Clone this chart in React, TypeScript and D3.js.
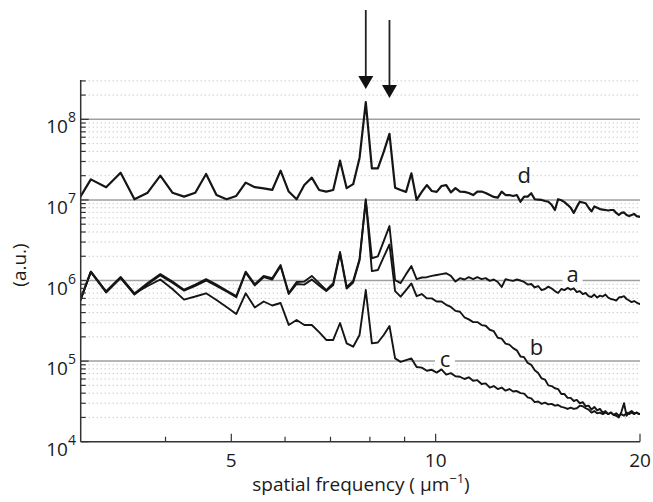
import React from 'react';
import * as d3 from 'd3';

// spatial frequency samples (um^-1)
const freq = [
  2.94, 3.105, 3.27, 3.435, 3.6, 3.765, 3.93, 4.095, 4.26, 4.425,
  4.59, 4.755, 4.92, 5.085, 5.25, 5.415, 5.58, 5.745, 5.91, 6.075,
  6.24, 6.405, 6.57, 6.735, 6.9, 7.065, 7.23, 7.395, 7.56, 7.725,
  7.89, 8.055, 8.22, 8.385, 8.55, 8.715, 8.88, 9.045, 9.21, 9.375,
  9.54, 9.705, 9.87, 10.035, 10.2, 10.365, 10.53, 10.695, 10.86, 11.025,
  11.19, 11.355, 11.52, 11.685, 11.85, 12.015, 12.18, 12.345, 12.51, 12.675,
  12.84, 13.005, 13.17, 13.335, 13.5, 13.665, 13.83, 13.995, 14.16, 14.325,
  14.49, 14.655, 14.82, 14.985, 15.15, 15.315, 15.48, 15.645, 15.81, 15.975,
  16.14, 16.305, 16.47, 16.635, 16.8, 16.965, 17.13, 17.295, 17.46, 17.625,
  17.79, 17.955, 18.12, 18.285, 18.45, 18.615, 18.78, 18.945, 19.11, 19.275,
  19.44, 19.605, 19.77, 19.935, 20.1,
];

const seriesA = [
  3.7e5, 1.29e6, 7.3e5, 1.1e6, 6.9e5, 9.3e5, 1.2e6, 9.7e5, 7.7e5, 8.9e5,
  1.04e6, 8.9e5, 7.5e5, 6.4e5, 1.29e6, 9.0e5, 1.14e6, 1.07e6, 1.56e6, 7.0e5,
  9.6e5, 9.7e5, 1.14e6, 9.3e5, 7.6e5, 9.3e5, 2.26e6, 8.3e5, 9.9e5, 1.85e6,
  1.02e7, 1.89e6, 1.99e6, 3.09e6, 4.74e6, 1.01e6, 9.3e5, 1.2e6, 1.51e6, 1.04e6,
  1.09e6, 1.1e6, 1.14e6, 1.17e6, 1.2e6, 1.23e6, 1.14e6, 9.7e5, 1.07e6, 1.03e6,
  1.1e6, 1.04e6, 1.1e6, 1.04e6, 1.07e6, 9.9e5, 1.03e6, 9.6e5, 8.3e5, 1.04e6,
  1.01e6, 9.9e5, 1.03e6, 1.0e6, 9.6e5, 8.9e5, 9.05e5, 8.2e5, 8.55e5, 7.6e5,
  7.85e5, 8.4e5, 7.95e5, 7.4e5, 7.0e5, 7.85e5, 7.6e5, 8.1e5, 7.7e5, 8.0e5,
  7.2e5, 7.4e5, 6.8e5, 7.0e5, 6.4e5, 6.24e5, 6.7e5, 6.15e5, 6.5e5, 6.33e5,
  6.7e5, 6.15e5, 5.9e5, 5.8e5, 5.65e5, 6.15e5, 6.24e5, 6.4e5, 5.9e5, 5.65e5,
  5.4e5, 5.57e5, 5.33e5, 5.15e5, 5.04e5,
];

const seriesB = [
  3.7e5, 1.27e6, 7.1e5, 1.07e6, 6.7e5, 9.0e5, 1.16e6, 9.4e5, 7.5e5, 8.6e5,
  1.0e6, 8.6e5, 7.3e5, 6.2e5, 1.25e6, 8.7e5, 1.1e6, 1.03e6, 1.5e6, 6.8e5,
  9.05e5, 8.9e5, 1.03e6, 8.67e5, 7.4e5, 8.8e5, 2.16e6, 7.96e5, 9.44e5, 1.77e6,
  9.8e6, 1.31e6, 1.35e6, 1.96e6, 2.8e6, 7.4e5, 6.3e5, 7.6e5, 9.2e5, 6.4e5,
  6.8e5, 6.0e5, 6.0e5, 5.5e5, 5.5e5, 5.0e5, 4.7e5, 4.2e5, 4.1e5, 3.5e5,
  3.3e5, 3.05e5, 3.05e5, 2.8e5, 2.75e5, 2.45e5, 2.35e5, 1.95e5, 1.9e5, 1.65e5,
  1.6e5, 1.45e5, 1.36e5, 1.14e5, 1.12e5, 9.5e4, 9.0e4, 7.7e4, 7.1e4, 6.1e4,
  5.9e4, 5.0e4, 4.9e4, 4.6e4, 4.5e4, 3.9e4, 3.9e4, 3.5e4, 3.5e4, 3.2e4,
  3.3e4, 3.0e4, 3.1e4, 2.75e4, 2.8e4, 2.5e4, 2.7e4, 2.45e4, 2.55e4, 2.3e4,
  2.4e4, 2.2e4, 2.3e4, 2.15e4, 2.25e4, 2.1e4, 2.2e4, 2.1e4, 2.3e4, 2.2e4,
  2.3e4, 2.2e4, 2.3e4, 2.2e4, 2.25e4,
];

const seriesC = [
  3.7e5, 1.29e6, 7.3e5, 1.1e6, 6.9e5, 8.55e5, 1.03e6, 7.85e5, 5.8e5, 6.33e5,
  6.94e5, 5.73e5, 4.69e5, 3.84e5, 6.94e5, 4.62e5, 5.49e5, 4.9e5, 5.26e5, 2.81e5,
  3.24e5, 2.81e5, 2.81e5, 2.29e5, 1.83e5, 1.83e5, 2.97e5, 1.66e5, 1.51e5, 2.11e5,
  7.62e5, 1.66e5, 1.7e5, 2.11e5, 2.73e5, 1.08e5, 9.8e4, 1.03e5, 1.08e5, 8.45e4,
  8.3e4, 7.6e4, 7.8e4, 7.2e4, 7.9e4, 6.8e4, 7.1e4, 6.5e4, 6.4e4, 6.0e4,
  6.3e4, 5.7e4, 5.8e4, 5.2e4, 5.3e4, 4.7e4, 4.9e4, 4.5e4, 4.7e4, 4.3e4,
  4.5e4, 4.2e4, 4.25e4, 4.0e4, 3.95e4, 3.55e4, 3.45e4, 3.1e4, 3.15e4, 2.95e4,
  3.05e4, 2.9e4, 2.95e4, 2.8e4, 2.85e4, 2.7e4, 2.65e4, 2.55e4, 2.65e4, 2.55e4,
  2.6e4, 2.8e4, 2.75e4, 2.6e4, 2.5e4, 2.3e4, 2.4e4, 2.25e4, 2.3e4, 2.2e4,
  2.3e4, 2.2e4, 2.3e4, 2.15e4, 2.1e4, 2.0e4, 2.35e4, 3.0e4, 2.1e4, 2.3e4,
  2.4e4, 2.25e4, 2.3e4, 2.2e4, 2.25e4,
];

const seriesD = [
  8.4e6, 1.8e7, 1.44e7, 2.18e7, 1.02e7, 1.23e7, 2.0e7, 1.23e7, 1.1e7, 1.23e7,
  2.1e7, 1.15e7, 1.02e7, 1.12e7, 1.64e7, 1.44e7, 1.39e7, 1.33e7, 2.31e7, 1.27e7,
  1.02e7, 1.53e7, 1.89e7, 1.33e7, 1.27e7, 1.33e7, 3.07e7, 1.4e7, 1.57e7, 3.32e7,
  1.64e8, 2.47e7, 2.47e7, 3.94e7, 6.6e7, 1.42e7, 1.33e7, 1.26e7, 2.14e7, 1.0e7,
  1.26e7, 1.53e7, 1.29e7, 1.26e7, 1.49e7, 1.53e7, 1.24e7, 1.4e7, 1.27e7, 1.26e7,
  1.22e7, 1.15e7, 1.27e7, 1.27e7, 1.22e7, 1.15e7, 1.09e7, 1.07e7, 1.27e7, 1.15e7,
  1.15e7, 1.12e7, 1.15e7, 9.5e6, 1.1e7, 1.1e7, 1.21e7, 1.02e7, 1.01e7, 1.0e7,
  9.7e6, 9.5e6, 8.7e6, 7.5e6, 1.02e7, 9.9e6, 9.4e6, 8.7e6, 8.0e6, 6.9e6,
  8.2e6, 9.5e6, 9.3e6, 9.1e6, 8.0e6, 7.2e6, 8.3e6, 8.0e6, 7.7e6, 7.6e6,
  7.5e6, 7.4e6, 7.5e6, 7.5e6, 6.9e6, 6.5e6, 6.9e6, 7.0e6, 6.5e6, 6.3e6,
  6.5e6, 6.7e6, 6.3e6, 6.2e6, 6.1e6,
];

const xTicks = [5, 10, 20];
const xMinorTicks = [4, 6, 7, 8, 9];
const yDecades = [4, 5, 6, 7, 8];
const gridDecades = [5, 6, 7, 8];
const peakFreqs = [7.89, 8.55];
const curveLabels = [
  { text: 'd', f: 13.51, v: 1.61e7, bg: false },
  { text: 'a', f: 15.91, v: 9.66e5, bg: true },
  { text: 'b', f: 14.08, v: 1.19e5, bg: false },
  { text: 'c', f: 10.32, v: 8.45e4, bg: true },
];

const W = 653;
const H = 502;
const plot = { left: 80.7, right: 640, top: 80.9, bottom: 441.7 };
const font = '"Open Sans", "DejaVu Sans", sans-serif';

export default function App() {
  const x = d3.scaleLog().domain([3, 20]).range([plot.left, plot.right]);
  const y = d3.scaleLog().domain([1e4, 3e8]).range([plot.bottom, plot.top]);

  const line = d3
    .line<[number, number]>()
    .x((d) => x(d[0]))
    .y((d) => y(d[1]));

  const series = [seriesC, seriesB, seriesA, seriesD];

  // minor y values: 2..9 x 10^n inside domain
  const yMinor: number[] = [];
  for (const e of yDecades) {
    for (let m = 2; m <= 9; m++) {
      const v = m * Math.pow(10, e);
      if (v <= 3e8) yMinor.push(v);
    }
  }

  return (
    <div style={{ position: 'absolute', left: 0, top: 0 }}>
      <svg width={W} height={H} style={{ display: 'block', background: '#fff' }}>
        <defs>
          <clipPath id="plotClip">
            <rect x={plot.left} y={plot.top - 30} width={plot.right - plot.left} height={plot.bottom - plot.top + 30} />
          </clipPath>
        </defs>

        {/* minor grid */}
        {yMinor.map((v) => (
          <line
            key={'mg' + v}
            x1={plot.left}
            x2={plot.right}
            y1={y(v)}
            y2={y(v)}
            stroke="#b4b4b4"
            strokeWidth={1}
            strokeDasharray="1 3"
          />
        ))}
        {/* major grid */}
        {gridDecades.map((e) => (
          <line
            key={'g' + e}
            x1={plot.left}
            x2={plot.right}
            y1={y(Math.pow(10, e))}
            y2={y(Math.pow(10, e))}
            stroke="#a0a0a0"
            strokeWidth={1.5}
          />
        ))}

        {/* curve labels with white background */}
        {curveLabels.map((l) => (
          <g key={l.text}>
            {l.bg && (
              <rect x={x(l.f) - 10} y={y(l.v) - 16} width={20} height={20} fill="#fff" />
            )}
            <text
              x={x(l.f)}
              y={y(l.v)}
              textAnchor="middle"
              fontFamily={font}
              fontSize={22}
              fill="#1a1a1a"
            >
              {l.text}
            </text>
          </g>
        ))}

        {/* data */}
        <g clipPath="url(#plotClip)">
          {series.map((s, k) => (
            <path
              key={k}
              d={line(freq.map((f, i) => [f, s[i]] as [number, number])) || ''}
              fill="none"
              stroke="#151515"
              strokeWidth={k === 3 ? 2.2 : 1.9}
              strokeLinejoin="round"
            />
          ))}
        </g>

        {/* axes */}
        <line x1={plot.left} x2={plot.left} y1={plot.top - 1} y2={plot.bottom} stroke="#333" strokeWidth={1.5} />
        <line x1={plot.left} x2={plot.right} y1={plot.bottom} y2={plot.bottom} stroke="#333" strokeWidth={1.5} />

        {/* y ticks */}
        {yMinor.map((v) => (
          <line key={'yt' + v} x1={plot.left} x2={plot.left + 5} y1={y(v)} y2={y(v)} stroke="#333" strokeWidth={1.2} />
        ))}
        {yDecades.map((e) => (
          <g key={'yl' + e}>
            <line x1={plot.left} x2={plot.left + 8} y1={y(Math.pow(10, e))} y2={y(Math.pow(10, e))} stroke="#333" strokeWidth={1.2} />
            <text x={76} y={y(Math.pow(10, e)) + 14} textAnchor="end" fontFamily={font} fontSize={19} fill="#1a1a1a">
              10
              <tspan dy={-11} fontSize={14}>
                {e}
              </tspan>
            </text>
          </g>
        ))}

        {/* x ticks */}
        {xMinorTicks.map((t) => (
          <line key={'xm' + t} x1={x(t)} x2={x(t)} y1={plot.bottom} y2={plot.bottom - 5} stroke="#333" strokeWidth={1.2} />
        ))}
        {xTicks.map((t) => (
          <g key={'xt' + t}>
            <line x1={x(t)} x2={x(t)} y1={plot.bottom} y2={plot.bottom - 8} stroke="#333" strokeWidth={1.2} />
            <text x={x(t)} y={467} textAnchor="middle" fontFamily={font} fontSize={19} fill="#1a1a1a">
              {t}
            </text>
          </g>
        ))}

        {/* axis titles */}
        <text x={361} y={491} textAnchor="middle" fontFamily={font} fontSize={19} fill="#1a1a1a" xmlSpace="preserve">
          {'spatial frequency ( μm'}
          <tspan dy={-8} fontSize={13}>−1</tspan>
          <tspan dy={8}>)</tspan>
        </text>
        <text
          transform="translate(26,265) rotate(-90)"
          textAnchor="middle"
          fontFamily={font}
          fontSize={19}
          fill="#1a1a1a"
        >
          (a.u.)
        </text>

        {/* peak arrows */}
        {peakFreqs.map((f, k) => {
          const px = x(f);
          const top = k === 0 ? 10 : 20;
          const tip = k === 0 ? 89 : 98;
          return (
            <g key={'ar' + k}>
              <line x1={px} x2={px} y1={top} y2={tip - 12} stroke="#222" strokeWidth={1.8} />
              <path d={`M${px - 7.5},${tip - 13} L${px + 7.5},${tip - 13} L${px},${tip} Z`} fill="#111" />
            </g>
          );
        })}
      </svg>
    </div>
  );
}
